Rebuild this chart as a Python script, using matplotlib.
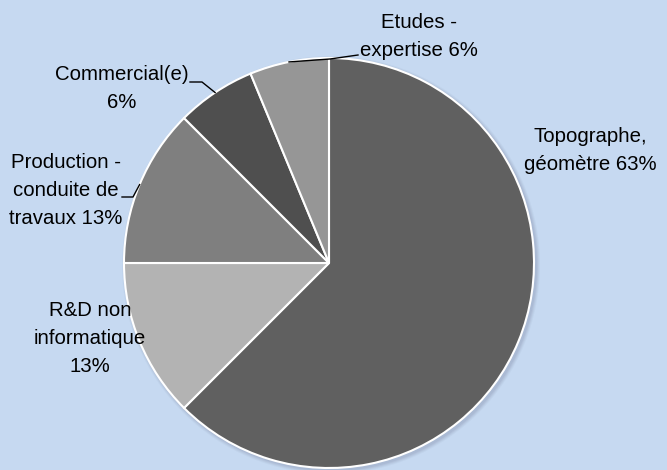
import numpy as np
import matplotlib.pyplot as plt
from matplotlib.patches import Circle

plt.rcParams['font.family'] = ['Liberation Sans', 'DejaVu Sans']

# data
jobs = ['Topographe,\ngéomètre', 'R&D non\ninformatique', 'Production -\nconduite de\ntravaux',
        'Commercial(e)', 'Etudes -\nexpertise']
shares = [62.5, 12.5, 12.5, 6.25, 6.25]
shown_pct = [63, 13, 13, 6, 6]
colors = ['#606060', '#b3b3b3', '#7f7f7f', '#4f4f4f', '#969696']

W, H = 667, 470
cx, cy, r = 329, H - 263, 205

fig = plt.figure(figsize=(W / 100, H / 100), dpi=100)
fig.patch.set_facecolor('#c6d9f1')
ax = fig.add_axes([0, 0, 1, 1])
ax.set_facecolor('#c6d9f1')

# soft shadow
for k, a in enumerate([0.06, 0.06, 0.05, 0.04]):
    ax.add_patch(Circle((cx + 2, cy - 2), r + 1 + k, color='#404060', alpha=a, lw=0, zorder=0))

wedges, _ = ax.pie(shares, colors=colors, startangle=90, counterclock=False,
                   center=(cx, cy), radius=r,
                   wedgeprops=dict(edgecolor='white', linewidth=1.5))
ax.set_xlim(0, W)
ax.set_ylim(0, H)
ax.axis('off')

# label positions (px from top-left) and separator before the percentage
label_xy = [(590, 151), (90, 338), (66, 190), (122, 89), (419, 36)]
seps = [' ', '\n', ' ', '\n', ' ']
for name, p, (lx, ly), s in zip(jobs, shown_pct, label_xy, seps):
    ax.text(lx, H - ly, name + s + '%d%%' % p, ha='center', va='center', fontsize=14.7,
            linespacing=1.6, color='black')

# leader lines to wedge mid-arc
elbows = {2: [(122, 197), (133, 197)], 3: [(190, 82), (202, 82)], 4: [(358, 55), (330, 59)]}
for i, pts in elbows.items():
    w = wedges[i]
    mid = np.deg2rad((w.theta1 + w.theta2) / 2)
    ex, ey = cx + r * np.cos(mid), cy + r * np.sin(mid)
    xs = [p[0] for p in pts] + [ex]
    ys = [H - p[1] for p in pts] + [ey]
    ax.plot(xs, ys, color='black', lw=1)

fig.savefig('out.png', dpi=100, facecolor=fig.get_facecolor())
